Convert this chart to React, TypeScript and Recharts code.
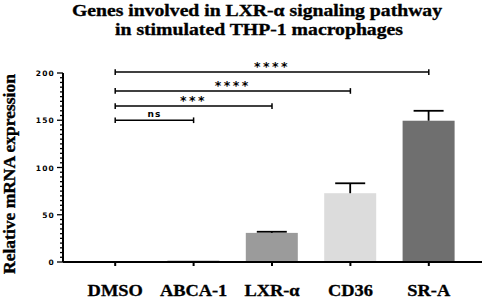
import React from "react";
import {
  BarChart,
  Bar,
  Cell,
  XAxis,
  YAxis,
  ReferenceLine,
} from "recharts";

const genes = ["DMSO", "ABCA-1", "LXR-α", "CD36", "SR-A"];
const expression = [1, 1.3, 30.8, 72.8, 149.5];
const errors = [0, 0, 1.2, 10.5, 10.5];
const barColors = ["#dedede", "#3a3a3a", "#9b9b9b", "#dcdcdc", "#6f6f6f"];

const majorTicks = [0, 50, 100, 150, 200];
const yTicks: number[] = [];
for (let t = 0; t <= 200; t += 5) yTicks.push(t);

const brackets = [
  { from: "DMSO", to: "ABCA-1", y: 150, label: "ns" },
  { from: "DMSO", to: "LXR-α", y: 165, label: "***" },
  { from: "DMSO", to: "CD36", y: 181, label: "****" },
  { from: "DMSO", to: "SR-A", y: 201, label: "****" },
];

const data = genes.map((name, i) => ({
  name,
  value: expression[i],
  err: errors[i],
}));

const serif = '"Liberation Serif", "Times New Roman", serif';
const sans = '"DejaVu Sans", Arial, sans-serif';

const YTick = (props: any) => {
  const { x, y, payload } = props;
  const major = majorTicks.includes(payload.value);
  return (
    <g>
      <line
        x1={x - (major ? 6 : 3)}
        x2={x}
        y1={y}
        y2={y}
        stroke="#000"
        strokeWidth={1.3}
      />
      {major && (
        <text
          x={x - 8}
          y={y}
          dy={3}
          textAnchor="end"
          fontFamily={sans}
          fontWeight="bold"
          fontSize={7.5}
          letterSpacing={1.2}
          fill="#000"
        >
          {payload.value}
        </text>
      )}
    </g>
  );
};

const XTick = (props: any) => {
  const { x, y, payload } = props;
  return (
    <text
      transform={`translate(${x},${y + 14}) scale(1.15,1)`}
      textAnchor="middle"
      fontFamily={serif}
      fontWeight="bold"
      fontSize={16}
      fill="#000"
      stroke="#000"
      strokeWidth={0.3}
    >
      {payload.value}
    </text>
  );
};

const BarWithError = (props: any) => {
  const { x, y, width, height, fill, payload } = props;
  const perUnit = payload.value ? height / payload.value : 0;
  const top = y - payload.err * perUnit;
  const cx = x + width / 2;
  return (
    <g>
      <rect x={x} y={y} width={width} height={height} fill={fill} />
      {payload.err > 0 && (
        <g stroke="#000" strokeWidth={1.8}>
          <line x1={cx} x2={cx} y1={y} y2={top} />
          <line x1={cx - 15} x2={cx + 15} y1={top} y2={top} />
        </g>
      )}
    </g>
  );
};

export default function App() {
  return (
    <div
      style={{
        position: "absolute",
        left: 0,
        top: 0,
        width: 484,
        height: 302,
        background: "#fff",
      }}
    >
      <svg
        width={484}
        height={302}
        style={{ position: "absolute", left: 0, top: 0 }}
      >
        <g
          fontFamily={serif}
          fontWeight="bold"
          fontSize={17.5}
          stroke="#000"
          strokeWidth={0.35}
        >
          <text x={72} y={16} textLength={370} lengthAdjust="spacingAndGlyphs">
            Genes involved in LXR-α signaling pathway
          </text>
          <text x={115} y={35} textLength={288} lengthAdjust="spacingAndGlyphs">
            in stimulated THP-1 macrophages
          </text>
          <text
            x={0}
            y={0}
            transform="translate(15,174) rotate(-90)"
            textAnchor="middle"
          >
            Relative mRNA expression
          </text>
        </g>
      </svg>
      <div style={{ position: "absolute", left: 0, top: 0 }}>
        <BarChart
          width={484}
          height={302}
          data={data}
          margin={{ top: 73, right: 2, bottom: 0, left: 0 }}
        >
          <XAxis
            dataKey="name"
            padding={{ left: 13, right: 14 }}
            height={40}
            axisLine={{ stroke: "#000", strokeWidth: 2 }}
            tickLine={{ stroke: "#000", strokeWidth: 2 }}
            tickSize={4}
            tickMargin={16}
            tick={<XTick />}
            interval={0}
          />
          <YAxis
            width={63}
            domain={[0, 200]}
            ticks={yTicks}
            interval={0}
            allowDataOverflow
            axisLine={{ stroke: "#000", strokeWidth: 2 }}
            tickLine={false}
            tickSize={0}
            tickMargin={0}
            tick={<YTick />}
          />
          <Bar
            dataKey="value"
            barSize={52}
            isAnimationActive={false}
            shape={<BarWithError />}
          >
            {data.map((d, i) => (
              <Cell key={d.name} fill={barColors[i]} />
            ))}
          </Bar>
          {brackets.map((b) => (
            <ReferenceLine
              key={b.to}
              ifOverflow="visible"
              stroke="#000"
              strokeWidth={1.5}
              segment={[
                { x: b.from, y: b.y },
                { x: b.to, y: b.y },
              ]}
              label={{
                value: b.label,
                position: "top",
                offset: b.label === "ns" ? 3 : 1,
                fill: "#000",
                fontFamily: sans,
                fontWeight: "bold",
                fontSize: b.label === "ns" ? 9 : 12.5,
                letterSpacing: b.label === "ns" ? 1 : 2.5,
              }}
            />
          ))}
          {brackets.flatMap((b) =>
            [b.from, b.to].map((c) => (
              <ReferenceLine
                key={b.to + c}
                ifOverflow="visible"
                stroke="#000"
                strokeWidth={1.5}
                segment={[
                  { x: c, y: b.y - 3 },
                  { x: c, y: b.y + 3 },
                ]}
              />
            ))
          )}
        </BarChart>
      </div>
    </div>
  );
}
